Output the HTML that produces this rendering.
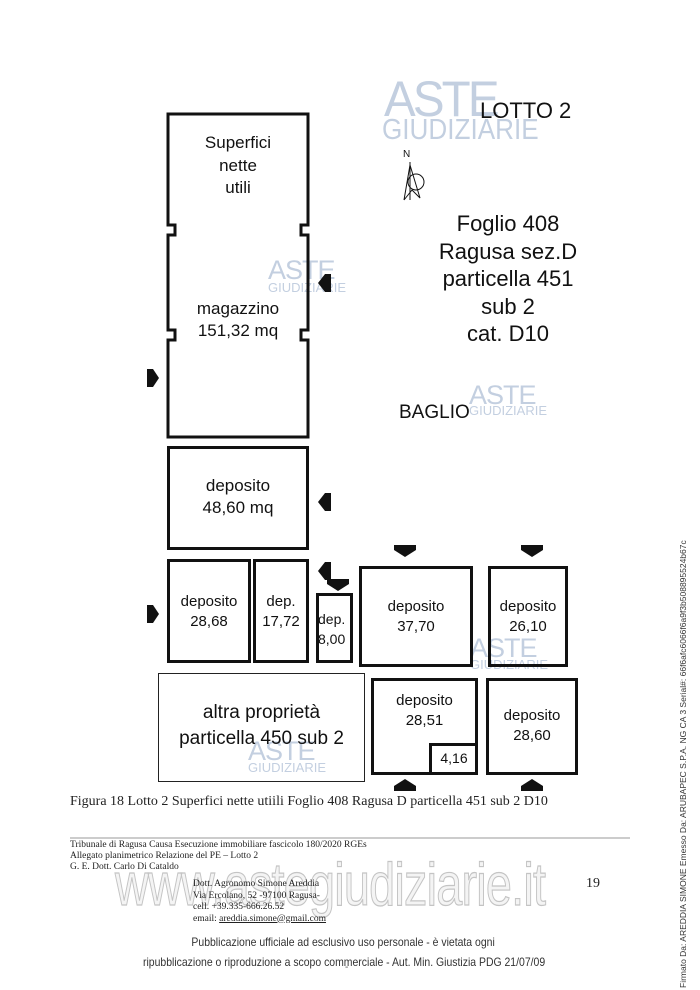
<!DOCTYPE html>
<html><head><meta charset="utf-8"><style>
body{margin:0;background:#fff;}
.p{position:relative;width:700px;height:990px;overflow:hidden;font-family:"Liberation Sans",sans-serif;}
.r{position:absolute;border:3px solid #111;box-sizing:border-box;}
.t{position:absolute;text-align:center;color:#111;line-height:1.25;white-space:nowrap;}
.wm{position:absolute;color:#c3cfe0;font-family:"Liberation Sans",sans-serif;line-height:1;white-space:nowrap;}
.tm{position:absolute;font-family:"Liberation Serif",serif;color:#222;white-space:nowrap;}
</style></head><body><div class="p">
<div class="wm" style="left:384px;top:74px;font-size:50px;letter-spacing:-3px;transform:scaleX(0.95);transform-origin:left">ASTE</div>
<div class="wm" style="left:382px;top:116px;font-size:29px;transform:scaleX(0.9);transform-origin:left">GIUDIZIARIE</div>
<div class="wm" style="left:268px;top:257px;font-size:27px;letter-spacing:-1px">ASTE</div>
<div class="wm" style="left:268px;top:281px;font-size:13px">GIUDIZIARIE</div>
<div class="wm" style="left:469px;top:382px;font-size:27px;letter-spacing:-1px">ASTE</div>
<div class="wm" style="left:469px;top:404px;font-size:13px">GIUDIZIARIE</div>
<div class="wm" style="left:470px;top:635px;font-size:27px;letter-spacing:-1px">ASTE</div>
<div class="wm" style="left:470px;top:658px;font-size:13px">GIUDIZIARIE</div>
<div class="wm" style="left:248px;top:738px;font-size:27px;letter-spacing:-1px">ASTE</div>
<div class="wm" style="left:248px;top:761px;font-size:13px">GIUDIZIARIE</div>
<svg width="700" height="990" style="position:absolute;left:0;top:0">
<g fill="none" stroke="#111" stroke-width="3">
<path d="M168,114 H308 V225 H301 V235 H308 V330 H301 V340 H308 V437 H168 V340 H175 V330 H168 V235 H175 V225 H168 Z"/>
</g>
<g fill="#111">
<path d="M147,369 h6 l6,9 l-6,9 h-6z"/>
<path d="M147,605 h6 l6,9 l-6,9 h-6z"/>
<path d="M331,274 h-6 l-7,9 l7,9 h6z"/>
<path d="M331,493 h-6 l-7,9 l7,9 h6z"/>
<path d="M331,562 h-6 l-7,9 l7,9 h6z"/>
<path d="M327,579 h22 v5 l-11,7 l-11,-7z"/>
<path d="M394,545 h22 v5 l-11,7 l-11,-7z"/>
<path d="M521,545 h22 v5 l-11,7 l-11,-7z"/>
<path d="M394,791 h22 v-5 l-11,-7 l-11,7z"/>
<path d="M521,791 h22 v-5 l-11,-7 l-11,7z"/>
</g>
<g stroke="#111" stroke-width="1" fill="none">
<line x1="410" y1="162" x2="410" y2="200"/>
<circle cx="416" cy="182" r="8"/>
<path d="M410,165 L404,200 L412,190 L420,198 Z"/>
</g>
<line x1="70" y1="838" x2="630" y2="838" stroke="#999" stroke-width="1"/>
</svg>

<div class="t" style="left:480px;top:97px;font-size:22px">LOTTO 2</div>
<div class="t" style="left:403px;top:149px;font-size:10px">N</div>
<div class="t" style="left:168px;width:140px;top:132px;font-size:17px;line-height:22.5px">Superfici<br>nette<br>utili</div>
<div class="t" style="left:168px;width:140px;top:298px;font-size:17px;line-height:22px">magazzino<br>151,32 mq</div>
<div class="t" style="left:420px;width:176px;top:210px;font-size:22px;line-height:27.5px">Foglio 408<br>Ragusa sez.D<br>particella 451<br>sub 2<br>cat. D10</div>
<div class="t" style="left:399px;top:401px;font-size:19px">BAGLIO</div>

<div class="r" style="left:167px;top:446px;width:142px;height:104px"></div>
<div class="t" style="left:168px;width:140px;top:475px;font-size:17px;line-height:22px">deposito<br>48,60 mq</div>
<div class="r" style="left:167px;top:559px;width:84px;height:104px"></div>
<div class="t" style="left:168px;width:82px;top:592px;font-size:15px;line-height:20px">deposito<br>28,68</div>
<div class="r" style="left:253px;top:559px;width:56px;height:104px"></div>
<div class="t" style="left:254px;width:54px;top:592px;font-size:15px;line-height:20px">dep.<br>17,72</div>
<div class="r" style="left:316px;top:593px;width:37px;height:70px"></div>
<div class="t" style="left:318px;width:34px;top:609px;font-size:14px;line-height:20px;text-align:left">dep.<br>8,00</div>
<div class="r" style="left:359px;top:566px;width:114px;height:101px"></div>
<div class="t" style="left:360px;width:112px;top:597px;font-size:15px;line-height:20px">deposito<br>37,70</div>
<div class="r" style="left:488px;top:566px;width:80px;height:101px"></div>
<div class="t" style="left:489px;width:78px;top:597px;font-size:15px;line-height:20px">deposito<br>26,10</div>
<div style="position:absolute;left:158px;top:673px;width:207px;height:109px;border:1px solid #222;box-sizing:border-box"></div>
<div class="t" style="left:158px;width:207px;top:700px;font-size:19px;line-height:26px">altra proprietà<br>particella 450 sub 2</div>
<div class="r" style="left:371px;top:678px;width:107px;height:97px"></div>
<div class="r" style="left:429px;top:743px;width:49px;height:32px;border-width:3px"></div>
<div class="t" style="left:372px;width:105px;top:691px;font-size:15px;line-height:20px">deposito<br>28,51</div>
<div class="t" style="left:432px;width:44px;top:750px;font-size:14px">4,16</div>
<div class="r" style="left:486px;top:678px;width:92px;height:97px"></div>
<div class="t" style="left:487px;width:90px;top:706px;font-size:15px;line-height:20px">deposito<br>28,60</div>

<div class="tm" style="left:70px;top:794px;font-size:14px">Figura 18 Lotto 2 Superfici nette utiili Foglio 408 Ragusa D particella 451 sub 2 D10</div>
<div class="tm" style="left:70px;top:840px;font-size:9.5px;line-height:11px">Tribunale di Ragusa Causa Esecuzione immobiliare fascicolo 180/2020 RGEs<br>Allegato planimetrico Relazione del PE – Lotto 2<br>G. E. Dott. Carlo Di Cataldo</div>
<div style="position:absolute;left:115px;top:850px;font-size:60px;color:#f4f4f4;-webkit-text-stroke:1.2px #c4c4c4;font-family:'Liberation Sans',sans-serif;letter-spacing:-1px;transform:scaleX(0.78);transform-origin:left;white-space:nowrap">www.astegiudiziarie.it</div>
<div class="tm" style="left:193px;top:879px;font-size:9.5px;line-height:11.5px">Dott. Agronomo Simone Areddia<br>Via Ercolano, 52 -97100 Ragusa-<br>cell. +39.335-666.26.52<br>email: <u>areddia.simone@gmail.com</u></div>
<div class="tm" style="left:586px;top:876px;font-size:14px">19</div>
<div class="t" style="left:143px;width:460px;top:932px;font-size:12px;line-height:20px;color:#333;transform:scaleX(0.87);transform-origin:left">Pubblicazione ufficiale ad esclusivo uso personale - è vietata ogni<br>ripubblicazione o riproduzione a scopo commerciale - Aut. Min. Giustizia PDG 21/07/09</div>
<div class="t" style="left:345px;top:962px;font-size:10px;color:#555">-</div>
<div style="position:absolute;left:678px;top:988px;font-size:8.5px;color:#333;transform:rotate(-90deg);transform-origin:left top;white-space:nowrap">Firmato Da: AREDDIA SIMONE Emesso Da: ARUBAPEC S.P.A. NG CA 3 Serial#: 66f6afc6066f6a9f3b508895524b67c</div>
</div></body></html>
